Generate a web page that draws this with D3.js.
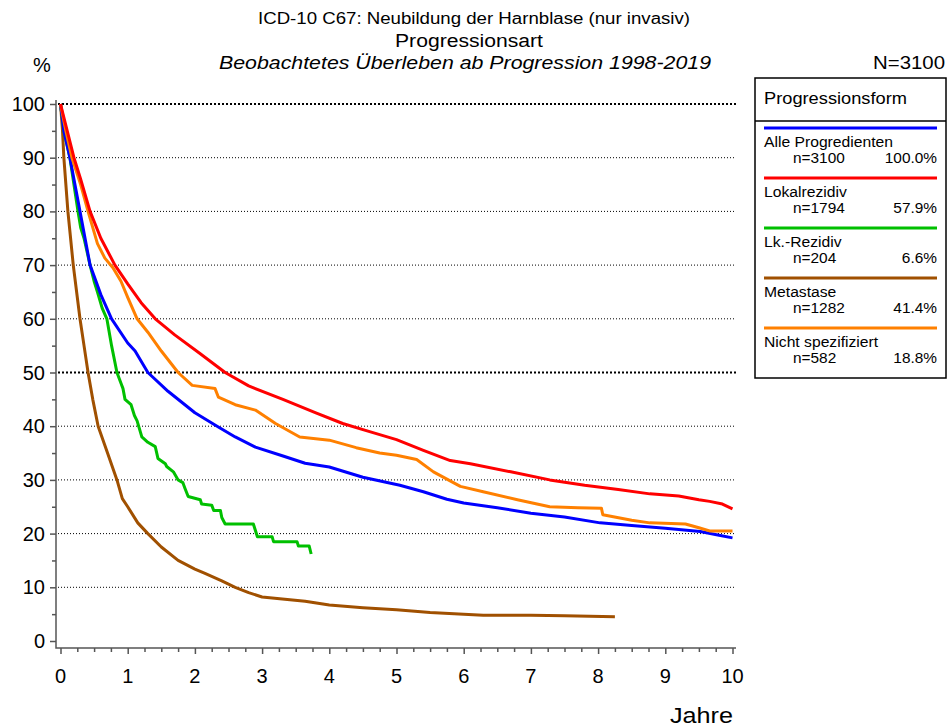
<!DOCTYPE html>
<html>
<head>
<meta charset="utf-8">
<style>
body{margin:0;background:#fff;}
svg text{font-family:"Liberation Sans",Arial,sans-serif;fill:#000;}
.grid{stroke:#000;stroke-width:1;stroke-dasharray:1,2;}
.grid.bold{stroke-width:2;stroke-dasharray:2,2;}
.axisline{stroke:#555;stroke-width:1.5;fill:none;}
.curve{fill:none;stroke-width:3;stroke-linejoin:round;}
.ticklabel{font-size:20px;}
</style>
</head>
<body>
<svg id="chart" width="948" height="728"></svg>
<script src="https://cdn.jsdelivr.net/npm/d3@7"></script>
<script>

// values: [years, percent]
var alle = [[0,100],[0.05,95],[0.14,90],[0.29,80],[0.44,70],[0.6,64.5],[0.76,60],[1.0,55.5],[1.11,54],[1.3,50],[1.6,46.5],[2.0,42.5],[2.33,40],[2.6,38],[2.9,36.1],[3.3,34.5],[3.64,33.1],[4.0,32.4],[4.5,30.5],[5.05,29],[5.4,27.8],[5.75,26.4],[6.0,25.7],[6.5,24.8],[7.0,23.8],[7.5,23.1],[8.03,22.0],[8.5,21.5],[9.0,21],[9.52,20.4],[9.8,19.7],[10,19.2]];
var lokal = [[0,100],[0.1,95],[0.2,90],[0.3,86],[0.44,80],[0.6,75],[0.81,70],[1.0,66.5],[1.2,63],[1.41,60],[1.7,57],[2.08,53.5],[2.45,50],[2.8,47.5],[3.31,45],[3.8,42.5],[4.2,40.5],[4.6,39],[5.0,37.5],[5.4,35.5],[5.8,33.6],[6.1,33],[6.7,31.5],[7.28,30],[7.8,29],[8.3,28.2],[8.77,27.4],[9.2,27],[9.5,26.3],[9.66,26],[9.85,25.5],[10,24.6]];
var lk = [[0,100],[0.05,95],[0.14,90],[0.2,85],[0.26,80],[0.3,77],[0.35,75],[0.44,70],[0.5,67],[0.55,65],[0.62,62],[0.69,60],[0.76,55],[0.84,50],[0.9,48],[0.93,47],[0.96,45],[1.05,44],[1.1,42],[1.14,41],[1.21,38],[1.3,37],[1.41,36.2],[1.45,34],[1.56,33],[1.58,32.5],[1.68,31.5],[1.75,30],[1.82,29.5],[1.85,28.5],[1.9,26.9],[2.08,26.3],[2.1,25.5],[2.25,25.3],[2.28,24.3],[2.38,24.3],[2.4,23],[2.45,21.8],[2.87,21.8],[2.93,19.4],[3.15,19.4],[3.17,18.5],[3.52,18.5],[3.54,17.7],[3.7,17.7],[3.73,16.2]];
var meta = [[0,100],[0.03,95],[0.05,90],[0.08,85],[0.11,80],[0.15,75],[0.19,70],[0.24,65],[0.29,60],[0.35,55],[0.41,50],[0.48,45],[0.56,40],[0.7,35],[0.84,30],[0.92,26.5],[1.0,25],[1.15,22],[1.3,20],[1.5,17.5],[1.75,15],[2.0,13.4],[2.15,12.6],[2.4,11.2],[2.6,10],[2.8,9],[3.0,8.2],[3.3,7.8],[3.64,7.4],[4.0,6.7],[4.5,6.2],[5.0,5.8],[5.5,5.3],[6.0,5.0],[6.29,4.8],[7.0,4.8],[7.5,4.7],[8.25,4.5]];
var nicht = [[0,100],[0.08,95],[0.17,90],[0.3,85],[0.41,80],[0.55,74],[0.66,71.3],[0.78,69.5],[0.9,67],[1.0,64],[1.14,60],[1.3,57.5],[1.5,54],[1.75,50],[1.96,47.6],[2.3,47],[2.35,45.4],[2.6,44],[2.9,43],[3.2,40.5],[3.56,38],[4.0,37.4],[4.4,36],[4.75,35],[5.0,34.6],[5.3,33.8],[5.55,31.5],[5.95,28.8],[6.29,27.8],[6.8,26.3],[7.28,25],[7.7,24.8],[8.05,24.7],[8.07,23.5],[8.5,22.5],[8.77,22],[9.3,21.8],[9.5,21.1],[9.66,20.5],[10,20.5]];

var seriesNames = ["Alle Progredienten","Lokalrezidiv","Lk.-Rezidiv","Metastase","Nicht spezifiziert"];
var seriesN     = ["n=3100","n=1794","n=204","n=1282","n=582"];
var seriesPct   = ["100.0%","57.9%","6.6%","41.4%","18.8%"];
var seriesData  = [alle, lokal, lk, meta, nicht];
var colors      = ["#0000ff","#ff0000","#00c000","#a05000","#ff8000"];

var xTicks = [0,1,2,3,4,5,6,7,8,9,10];
var yTicks = [0,10,20,30,40,50,60,70,80,90,100];

var svg = d3.select("#chart");

var x = d3.scaleLinear().domain([0,10]).range([60.5,732.5]);
var y = d3.scaleLinear().domain([0,100]).range([641,104]);

// the original text is a little wider than the font, stretch it
function stretch(sel, f){
  sel.each(function(){
    var w = this.getComputedTextLength();
    d3.select(this).attr("textLength", w*f).attr("lengthAdjust","spacingAndGlyphs");
  });
  return sel;
}

// titles
svg.append("text").attr("x",474).attr("y",24).attr("text-anchor","middle")
  .style("font-size","16px").attr("textLength",432).attr("lengthAdjust","spacingAndGlyphs")
  .text("ICD-10 C67: Neubildung der Harnblase (nur invasiv)");
svg.append("text").attr("x",469).attr("y",47).attr("text-anchor","middle")
  .style("font-size","18px").attr("textLength",148).attr("lengthAdjust","spacingAndGlyphs")
  .text("Progressionsart");
svg.append("text").attr("x",465).attr("y",69).attr("text-anchor","middle")
  .style("font-size","18px").style("font-style","italic")
  .attr("textLength",492).attr("lengthAdjust","spacingAndGlyphs")
  .text("Beobachtetes Überleben ab Progression 1998-2019");
svg.append("text").attr("x",33).attr("y",72).style("font-size","20px").text("%");
svg.append("text").attr("x",945).attr("y",69).attr("text-anchor","end").style("font-size","18px")
  .attr("textLength",72).attr("lengthAdjust","spacingAndGlyphs").text("N=3100");

// grid
svg.selectAll(".grid").data(yTicks.filter(function(d){return d>0;})).enter()
  .append("line")
  .attr("class", function(d){ return (d==50||d==100) ? "grid bold" : "grid"; })
  .attr("x1",58).attr("x2",736)
  .attr("y1",function(d){return y(d);}).attr("y2",function(d){return y(d);});

// axes
var yAxis = d3.axisLeft(y).tickValues(d3.range(0,101,5)).tickSize(4).tickFormat("");
var gy = svg.append("g").attr("transform","translate(56,0)").call(yAxis);
gy.select(".domain").remove();
gy.selectAll(".tick line").attr("stroke","#555").attr("stroke-width",1.5)
  .attr("x2",function(d){return d%10==0 ? -6 : -4;});
svg.selectAll(".ylab").data(yTicks).enter().append("text")
  .attr("class","ticklabel").attr("x",45).attr("y",function(d){return y(d)+7;})
  .attr("text-anchor","end").text(function(d){return d;});

var xAxis = d3.axisBottom(x).tickValues(d3.range(0,10.01,0.25)).tickSize(4).tickFormat("");
var gx = svg.append("g").attr("transform","translate(0,648)").call(xAxis);
gx.select(".domain").remove();
gx.selectAll(".tick line").attr("stroke","#555").attr("stroke-width",1.5)
  .attr("y2",function(d){return Math.abs(d-Math.round(d))<0.001 ? 6 : 4;});
svg.selectAll(".xlab").data(xTicks).enter().append("text")
  .attr("class","ticklabel").attr("x",function(d){return x(d);}).attr("y",683)
  .attr("text-anchor","middle").text(function(d){return d;});

svg.append("path").attr("class","axisline")
  .attr("d","M56,100V648H736");

svg.append("text").attr("x",733).attr("y",723).attr("text-anchor","end")
  .style("font-size","22px").attr("textLength",63).attr("lengthAdjust","spacingAndGlyphs")
  .text("Jahre");

// curves
var line = d3.line().x(function(d){return x(d[0]);}).y(function(d){return y(d[1]);});
[3,2,0,4,1].forEach(function(i){
  svg.append("path").datum(seriesData[i]).attr("class","curve")
    .attr("stroke",colors[i]).attr("d",line);
});

// legend
var lg = svg.append("g");
lg.append("rect").attr("x",755).attr("y",78).attr("width",191).attr("height",300)
  .attr("fill","#fff").attr("stroke","#000").attr("stroke-width",1.5);
lg.append("line").attr("x1",755).attr("x2",946).attr("y1",121).attr("y2",121)
  .attr("stroke","#000").attr("stroke-width",1.5);
lg.append("text").attr("x",764).attr("y",104).style("font-size","17px")
  .attr("textLength",143).attr("lengthAdjust","spacingAndGlyphs").text("Progressionsform");
seriesNames.forEach(function(name,i){
  var y0 = 128 + i*50;
  lg.append("line").attr("x1",764).attr("x2",937).attr("y1",y0).attr("y2",y0)
    .attr("stroke",colors[i]).attr("stroke-width",3);
  stretch(lg.append("text").attr("x",764).attr("y",y0+19).style("font-size","14px").text(name), 1.12);
  stretch(lg.append("text").attr("x",793).attr("y",y0+35).style("font-size","14px").text(seriesN[i]), 1.1);
  stretch(lg.append("text").attr("x",937).attr("y",y0+35).attr("text-anchor","end").style("font-size","14px").text(seriesPct[i]), 1.1);
});

</script>
</body>
</html>
